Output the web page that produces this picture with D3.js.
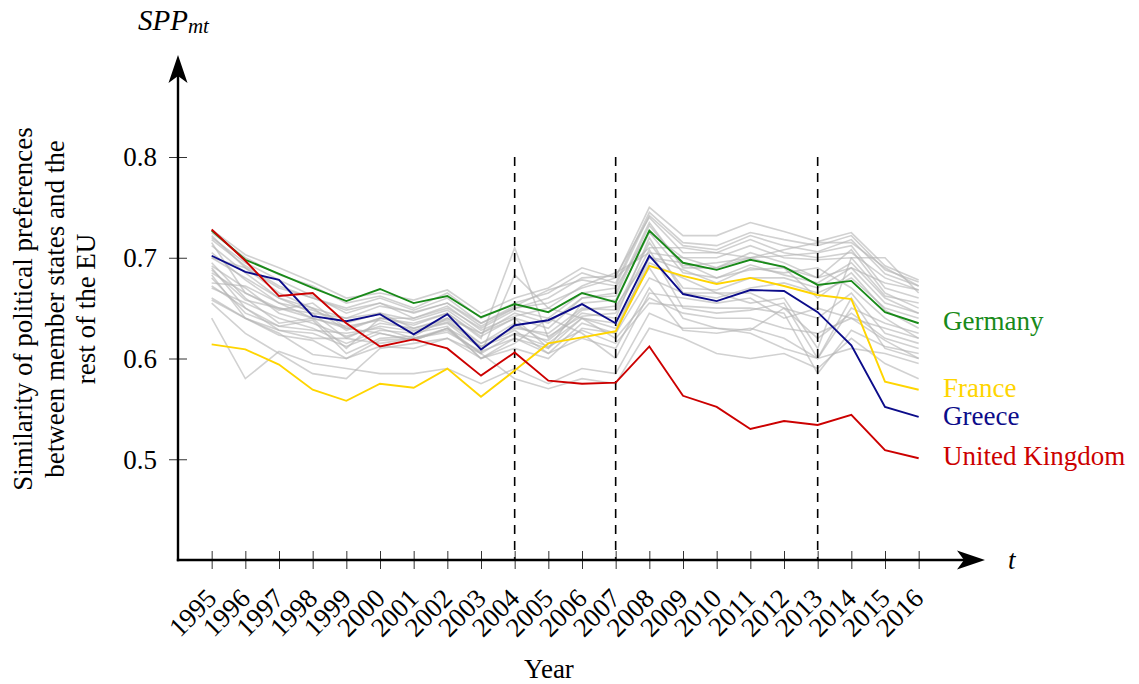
<!DOCTYPE html>
<html>
<head>
<meta charset="utf-8">
<script src="https://cdn.jsdelivr.net/npm/d3@7"></script>
<style>
  body { margin: 0; background: #fff; }
  svg, svg text { font-family: "Liberation Serif", "Times New Roman", serif; }
</style>
</head>
<body>
<svg id="chart" width="1139" height="684"></svg>
<script>
// DATA
var years = d3.range(1995, 2017);
var yTicks = [0.5, 0.6, 0.7, 0.8];
var breaks = [2004, 2007, 2013];

var germany = [0.727, 0.698, 0.684, 0.670, 0.657, 0.669, 0.655, 0.662, 0.641, 0.654, 0.646, 0.665,
               0.656, 0.727, 0.695, 0.688, 0.698, 0.691, 0.673, 0.677, 0.646, 0.635];
var france = [0.614, 0.609, 0.594, 0.569, 0.558, 0.575, 0.571, 0.590, 0.562, 0.588, 0.615, 0.621,
              0.627, 0.692, 0.682, 0.674, 0.680, 0.672, 0.663, 0.659, 0.577, 0.569];
var greece = [0.702, 0.686, 0.678, 0.642, 0.637, 0.644, 0.624, 0.644, 0.609, 0.633, 0.638, 0.654,
              0.635, 0.702, 0.664, 0.657, 0.668, 0.667, 0.646, 0.613, 0.552, 0.542];
var uk = [0.728, 0.697, 0.662, 0.665, 0.635, 0.612, 0.619, 0.610, 0.583, 0.606, 0.578, 0.575,
          0.576, 0.612, 0.563, 0.552, 0.530, 0.538, 0.534, 0.544, 0.509, 0.501];

// the other member states (grey)
var others = [
  [0.728, 0.703, 0.690, 0.676, 0.660, 0.665, 0.658, 0.668, 0.645, 0.660, 0.670, 0.690, 0.680, 0.750, 0.722, 0.722, 0.735, 0.726, 0.716, 0.725, 0.692, 0.678],
  [0.725, 0.700, 0.683, 0.672, 0.655, 0.662, 0.650, 0.665, 0.640, 0.655, 0.665, 0.685, 0.675, 0.745, 0.715, 0.712, 0.725, 0.718, 0.712, 0.722, 0.688, 0.676],
  [0.722, 0.690, 0.665, 0.650, 0.640, 0.652, 0.646, 0.655, 0.632, 0.650, 0.660, 0.680, 0.682, 0.740, 0.705, 0.705, 0.718, 0.705, 0.700, 0.705, 0.680, 0.668],
  [0.715, 0.665, 0.648, 0.655, 0.630, 0.640, 0.640, 0.650, 0.630, 0.648, 0.640, 0.665, 0.670, 0.725, 0.700, 0.700, 0.712, 0.700, 0.698, 0.700, 0.662, 0.655],
  [0.700, 0.680, 0.660, 0.645, 0.640, 0.645, 0.630, 0.640, 0.625, 0.640, 0.630, 0.660, 0.665, 0.735, 0.690, 0.690, 0.705, 0.695, 0.680, 0.708, 0.665, 0.650],
  [0.695, 0.660, 0.635, 0.640, 0.632, 0.638, 0.628, 0.636, 0.615, 0.630, 0.625, 0.650, 0.648, 0.715, 0.670, 0.668, 0.680, 0.680, 0.670, 0.690, 0.655, 0.645],
  [0.690, 0.650, 0.632, 0.628, 0.625, 0.630, 0.620, 0.628, 0.605, 0.625, 0.618, 0.645, 0.640, 0.720, 0.665, 0.660, 0.670, 0.675, 0.665, 0.680, 0.650, 0.640],
  [0.685, 0.665, 0.650, 0.640, 0.610, 0.640, 0.635, 0.645, 0.620, 0.710, 0.620, 0.648, 0.652, 0.700, 0.688, 0.675, 0.690, 0.685, 0.690, 0.670, 0.640, 0.620],
  [0.675, 0.672, 0.655, 0.640, 0.630, 0.625, 0.618, 0.630, 0.605, 0.683, 0.650, 0.640, 0.630, 0.695, 0.680, 0.665, 0.655, 0.660, 0.610, 0.700, 0.700, 0.665],
  [0.672, 0.650, 0.628, 0.620, 0.620, 0.615, 0.620, 0.630, 0.600, 0.620, 0.610, 0.640, 0.635, 0.690, 0.640, 0.630, 0.628, 0.650, 0.640, 0.665, 0.625, 0.615],
  [0.660, 0.640, 0.625, 0.604, 0.600, 0.612, 0.610, 0.620, 0.600, 0.610, 0.600, 0.630, 0.625, 0.680, 0.665, 0.665, 0.665, 0.650, 0.620, 0.645, 0.620, 0.610],
  [0.658, 0.640, 0.623, 0.618, 0.600, 0.618, 0.620, 0.626, 0.607, 0.620, 0.605, 0.620, 0.610, 0.670, 0.628, 0.625, 0.630, 0.620, 0.600, 0.660, 0.610, 0.600],
  [0.640, 0.580, 0.607, 0.595, 0.590, 0.585, 0.585, 0.590, 0.575, 0.590, 0.575, 0.590, 0.585, 0.645, 0.630, 0.630, 0.625, 0.610, 0.600, 0.610, 0.605, 0.595],
  [0.655, 0.625, 0.605, 0.585, 0.580, 0.610, 0.615, 0.620, 0.605, 0.580, 0.570, 0.580, 0.575, 0.630, 0.620, 0.605, 0.600, 0.605, 0.590, 0.620, 0.595, 0.580],
  [0.700, 0.690, 0.670, 0.660, 0.650, 0.660, 0.648, 0.660, 0.635, 0.650, 0.655, 0.670, 0.680, 0.710, 0.710, 0.705, 0.700, 0.690, 0.680, 0.690, 0.675, 0.668],
  [0.680, 0.645, 0.632, 0.638, 0.605, 0.620, 0.622, 0.640, 0.615, 0.635, 0.615, 0.640, 0.620, 0.660, 0.645, 0.640, 0.640, 0.630, 0.625, 0.640, 0.630, 0.620],
  [0.720, 0.695, 0.678, 0.662, 0.645, 0.655, 0.640, 0.652, 0.628, 0.642, 0.650, 0.672, 0.685, 0.705, 0.700, 0.690, 0.700, 0.708, 0.715, 0.715, 0.690, 0.672],
  [0.688, 0.658, 0.650, 0.645, 0.620, 0.635, 0.630, 0.638, 0.612, 0.628, 0.605, 0.635, 0.625, 0.700, 0.695, 0.680, 0.688, 0.690, 0.660, 0.685, 0.648, 0.630],
  [0.670, 0.655, 0.640, 0.630, 0.615, 0.628, 0.625, 0.632, 0.600, 0.615, 0.640, 0.625, 0.600, 0.665, 0.660, 0.655, 0.660, 0.640, 0.650, 0.640, 0.618, 0.600],
  [0.712, 0.685, 0.660, 0.650, 0.628, 0.640, 0.633, 0.645, 0.622, 0.640, 0.610, 0.655, 0.658, 0.725, 0.685, 0.680, 0.693, 0.683, 0.675, 0.695, 0.660, 0.645],
  [0.718, 0.692, 0.672, 0.660, 0.648, 0.655, 0.645, 0.655, 0.635, 0.652, 0.668, 0.678, 0.672, 0.742, 0.712, 0.708, 0.722, 0.712, 0.706, 0.718, 0.684, 0.672],
  [0.692, 0.670, 0.645, 0.635, 0.622, 0.632, 0.627, 0.635, 0.610, 0.632, 0.622, 0.642, 0.645, 0.708, 0.650, 0.645, 0.648, 0.655, 0.600, 0.650, 0.635, 0.625],
  [0.683, 0.640, 0.628, 0.625, 0.612, 0.625, 0.618, 0.630, 0.612, 0.624, 0.612, 0.628, 0.615, 0.655, 0.652, 0.650, 0.650, 0.645, 0.585, 0.628, 0.612, 0.605],
  [0.705, 0.678, 0.655, 0.648, 0.635, 0.645, 0.638, 0.648, 0.625, 0.645, 0.635, 0.660, 0.662, 0.732, 0.692, 0.695, 0.700, 0.702, 0.705, 0.712, 0.670, 0.660]
];

var highlighted = [
  { name: "Germany", values: germany, color: "#198a19", labelY: 330 },
  { name: "France", values: france, color: "#ffd500", labelY: 397 },
  { name: "Greece", values: greece, color: "#0c0c8a", labelY: 425 },
  { name: "United Kingdom", values: uk, color: "#cc0000", labelY: 465 }
];

var FS = 27;
const svg = d3.select("#chart");

// SCALES
var x = d3.scaleLinear().domain([1994, 2018]).range([178, 986]);
var y = d3.scaleLinear().domain([0.4, 0.8]).range([560, 157]);

var line = d3.line()
    .x((d, i) => x(years[i]))
    .y(d => y(d));

// grey lines
svg.append("g")
    .selectAll("path")
    .data(others)
    .join("path")
    .attr("d", line)
    .attr("fill", "none")
    .attr("stroke", "#b4b4b4")
    .attr("stroke-opacity", 0.62)
    .attr("stroke-width", 1.6);

// dashed lines
svg.append("g")
    .selectAll("line")
    .data(breaks)
    .join("line")
    .attr("x1", d => x(d))
    .attr("x2", d => x(d))
    .attr("y1", y(0.8))
    .attr("y2", y(0.4))
    .attr("stroke", "#000")
    .attr("stroke-width", 1.6)
    .attr("stroke-dasharray", "9,7");

// highlighted countries
svg.append("g")
    .selectAll("path")
    .data(highlighted)
    .join("path")
    .attr("d", d => line(d.values))
    .attr("fill", "none")
    .attr("stroke", d => d.color)
    .attr("stroke-width", 1.9);

svg.append("g")
    .selectAll("text")
    .data(highlighted)
    .join("text")
    .attr("x", 943)
    .attr("y", d => d.labelY)
    .attr("fill", d => d.color)
    .attr("font-size", FS)
    .text(d => d.name);

// AXES
var xAxis = d3.axisBottom(x)
    .tickValues(years)
    .tickSize(0)
    .tickFormat(d3.format("d"));

var gx = svg.append("g")
    .attr("transform", "translate(0," + y(0.4) + ")")
    .call(xAxis)
    .attr("font-family", null)
    .attr("font-size", null);
gx.select(".domain").remove();
gx.selectAll(".tick line")
    .attr("y1", -9).attr("y2", 9)
    .attr("stroke", "#333").attr("stroke-width", 1);
gx.selectAll(".tick text")
    .attr("font-size", FS)
    .attr("fill", "#000")
    .attr("text-anchor", "end")
    .attr("y", 0).attr("dy", 0)
    .attr("transform", "translate(6,40) rotate(-45)");

var yAxis = d3.axisLeft(y)
    .tickValues(yTicks)
    .tickSize(0)
    .tickFormat(d3.format(".1f"));

var gy = svg.append("g")
    .attr("transform", "translate(" + x(1994) + ",0)")
    .call(yAxis)
    .attr("font-family", null)
    .attr("font-size", null);
gy.select(".domain").remove();
gy.selectAll(".tick line")
    .attr("x1", -9).attr("x2", 9)
    .attr("stroke", "#333").attr("stroke-width", 1);
gy.selectAll(".tick text")
    .attr("font-size", FS)
    .attr("fill", "#000")
    .attr("x", -21)
    .attr("dy", "0.33em");

// axis lines with arrow heads
var ox = x(1994), oy = y(0.4);
svg.append("line")
    .attr("x1", ox).attr("y1", oy + 1.2)
    .attr("x2", ox).attr("y2", 70)
    .attr("stroke", "#000").attr("stroke-width", 2.4);
svg.append("line")
    .attr("x1", ox - 1.2).attr("y1", oy)
    .attr("x2", 970).attr("y2", oy)
    .attr("stroke", "#000").attr("stroke-width", 2.4);
svg.append("path")
    .attr("d", "M" + ox + ",55 L" + (ox + 9.5) + ",83 L" + ox + ",76 L" + (ox - 9.5) + ",83 Z")
    .attr("fill", "#000");
svg.append("path")
    .attr("d", "M985," + oy + " L957," + (oy - 9.5) + " L964," + oy + " L957," + (oy + 9.5) + " Z")
    .attr("fill", "#000");

// axis names
svg.append("text")
    .attr("x", 1008).attr("y", 569)
    .attr("font-size", FS).attr("font-style", "italic")
    .text("t");

var spp = svg.append("text")
    .attr("x", 138).attr("y", 30)
    .attr("font-size", 29).attr("font-style", "italic");
spp.append("tspan").text("SPP");
spp.append("tspan").attr("font-size", 21).attr("dy", 3).text("mt");

svg.append("text")
    .attr("x", 549).attr("y", 678)
    .attr("text-anchor", "middle")
    .attr("font-size", FS)
    .text("Year");

var yLabel = ["Similarity of political preferences", "between member states and the", "rest of the EU"];
svg.append("g")
    .selectAll("text")
    .data(yLabel)
    .join("text")
    .attr("transform", (d, i) => "translate(" + (32 + i * 31.5) + ",309) rotate(-90)")
    .attr("text-anchor", "middle")
    .attr("font-size", FS)
    .text(d => d);
</script>
</body>
</html>
